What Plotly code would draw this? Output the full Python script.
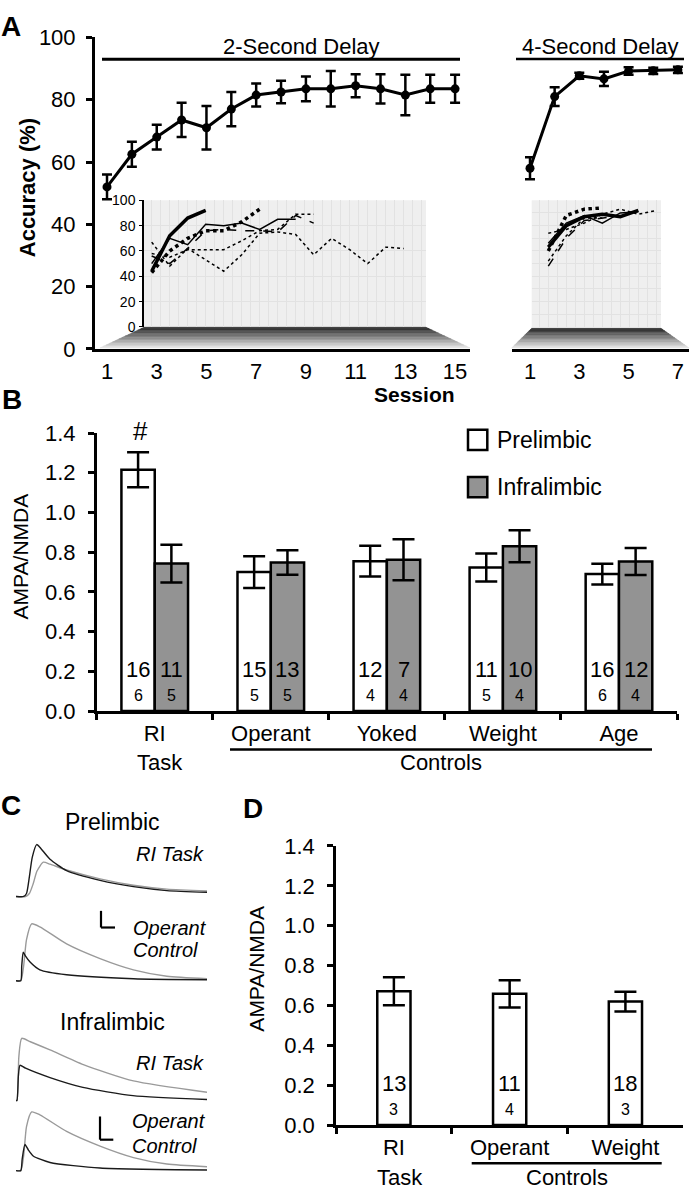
import plotly.graph_objects as go

W, H = 689, 1199
FONT = "Liberation Sans, Arial, Helvetica, sans-serif"

# ---------------- Panel A data ----------------
sessions_2s = list(range(1, 16))
acc_2s = [52, 62.5, 68, 73.5, 71, 77, 81.5, 82.5, 83.5, 83.5, 84.5, 83.5, 81.5, 83.5, 83.5]
err_2s = [4, 4, 4, 5.5, 7, 5.5, 3.7, 3.6, 4, 5.7, 3.7, 4.7, 6.5, 4.5, 4.5]

sessions_4s = list(range(1, 8))
acc_4s = [58, 81, 87.7, 86.7, 89.2, 89.3, 89.6]
err_4s = [3.5, 3, 1, 2.3, 1.2, 1, 1]

# individual animals (inset, 2-s delay)
ind_2s = [
    [44, 72, 86, 92],
    [43, 60, 70, 76, 76, 83, 93],
    [50, 70, 65, 81, 80, 82, 77, 85, 85],
    [56, 50, 62, 76, 77, 76, 76, 75, 88, 82],
    [58, 55, 61, 61, 61, 68, 76, 77, 89, 89],
    [67, 48, 62, 53, 44, 57, 74, 75, 73, 57, 70, 61, 50, 63, 62],
]
# individual animals (inset, 4-s delay)
ind_4s = [
    [63, 80, 87, 89, 87, 92],
    [60, 88, 93, 94],
    [66, 82, 88, 82, 90, 91],
    [48, 70, 84, 86, 88],
    [74, 77, 82, 89, 93, 89, 92],
    [52, 72, 86, 86],
]
ind_styles = [(3.5, "solid"), (3.5, "dot"), (1.5, "solid"), (1.5, "dash"), (1.5, "dot"), (1.5, "dot")]

# ---------------- Panel B data ----------------
groups_b = ["RI", "Operant", "Yoked", "Weight", "Age"]
pl_vals = [1.215, 0.70, 0.755, 0.723, 0.69]
pl_err = [0.088, 0.08, 0.077, 0.07, 0.052]
il_vals = [0.743, 0.748, 0.762, 0.83, 0.753]
il_err = [0.095, 0.062, 0.103, 0.08, 0.068]
pl_cells = [16, 15, 12, 11, 16]
pl_rats = [6, 5, 4, 5, 6]
il_cells = [11, 13, 7, 10, 12]
il_rats = [5, 5, 4, 4, 4]

# ---------------- Panel C data (traces, arbitrary units) ----------------
pl_ri_black_t = [0, 8, 11, 14, 17, 21.7, 26, 35.6, 53, 88, 123, 158, 200]
pl_ri_black = [0, 0, 3, 20, 40, 53, 49, 38, 26.5, 16.5, 10, 6, 4.3]
pl_ri_gray_t = [0, 10, 14, 18, 22, 28.6, 35.6, 53, 88, 123, 158, 200]
pl_ri_gray = [0, 0, 3, 13, 26, 35, 33, 27, 18, 11.5, 7.5, 5.6]

pl_op_gray_t = [0, 5, 8, 11, 16.4, 25, 53, 88, 123, 158, 200]
pl_op_gray = [0, 0, 15, 42, 58, 55, 37.5, 22.5, 11, 4.5, 2]
pl_op_black_t = [0, 5, 6, 7.6, 10, 14.7, 25, 53, 123, 200]
pl_op_black = [0, 0, 15, 29, 25, 19, 11, 6, 2, 1]

il_ri_gray_t = [0, 1, 3, 6, 15, 35.6, 70.5, 123, 200]
il_ri_gray = [0, 0, 45, 63.5, 60, 51.7, 36.7, 20, 8.4]
il_ri_black_t = [0, 1, 2.5, 4.2, 10, 35.6, 70, 122.5, 200]
il_ri_black = [0, 0, 25, 36, 33, 23.4, 13.4, 5, 1]

il_op_gray_t = [0, 5, 8, 11, 16.4, 25, 53, 88, 123, 158, 200]
il_op_gray = [0, 0, 15, 45, 60, 57, 40, 25, 13.3, 6.7, 4]
il_op_black_t = [0, 5, 6.5, 9.4, 13, 18, 35.6, 88, 200]
il_op_black = [0, 0, 12, 26.7, 21, 15, 8.3, 2.7, 0.7]

# ---------------- Panel D data ----------------
groups_d = ["RI", "Operant", "Weight"]
d_vals = [0.671, 0.658, 0.619]
d_err = [0.07, 0.068, 0.05]
d_cells = [13, 11, 18]
d_rats = [3, 4, 3]


def px(x):
    return x / W


def py(y):
    return 1 - y / H


fig = go.Figure()

# ---- A main curves
fig.add_trace(go.Scatter(x=sessions_2s, y=acc_2s, mode="lines+markers",
                         line=dict(color="black", width=3), marker=dict(size=9, color="black"),
                         error_y=dict(type="data", array=err_2s, color="black", thickness=2.5, width=5),
                         xaxis="x", yaxis="y", cliponaxis=False, showlegend=False))
fig.add_trace(go.Scatter(x=sessions_4s, y=acc_4s, mode="lines+markers",
                         line=dict(color="black", width=3), marker=dict(size=9, color="black"),
                         error_y=dict(type="data", array=err_4s, color="black", thickness=2.5, width=5),
                         xaxis="x2", yaxis="y2", cliponaxis=False, showlegend=False))
# ---- A insets
for vals, (lw, dash) in zip(ind_2s, ind_styles):
    fig.add_trace(go.Scatter(x=list(range(1, len(vals) + 1)), y=vals, mode="lines",
                             line=dict(color="black", width=lw, dash=dash),
                             xaxis="x3", yaxis="y3", showlegend=False))
for vals, (lw, dash) in zip(ind_4s, ind_styles):
    fig.add_trace(go.Scatter(x=list(range(1, len(vals) + 1)), y=vals, mode="lines",
                             line=dict(color="black", width=lw, dash=dash),
                             xaxis="x4", yaxis="y4", showlegend=False))

# ---- B bars
BW = 0.287
fig.add_trace(go.Bar(x=groups_b, y=pl_vals, width=BW, offset=-BW, name="Prelimbic",
                     marker=dict(color="white", line=dict(color="black", width=2.5)),
                     error_y=dict(type="data", array=pl_err, color="black", thickness=2.5, width=11),
                     xaxis="x5", yaxis="y5", showlegend=False))
fig.add_trace(go.Bar(x=groups_b, y=il_vals, width=BW, offset=0, name="Infralimbic",
                     marker=dict(color="#939393", line=dict(color="black", width=2.5)),
                     error_y=dict(type="data", array=il_err, color="black", thickness=2.5, width=11),
                     xaxis="x5", yaxis="y5", showlegend=False))

# ---- C traces
c_sets = [
    (pl_ri_gray_t, pl_ri_gray, pl_ri_black_t, pl_ri_black, "6"),
    (pl_op_gray_t, pl_op_gray, pl_op_black_t, pl_op_black, "7"),
    (il_ri_gray_t, il_ri_gray, il_ri_black_t, il_ri_black, "8"),
    (il_op_gray_t, il_op_gray, il_op_black_t, il_op_black, "9"),
]
for gt, gv, bt, bv, k in c_sets:
    fig.add_trace(go.Scatter(x=gt, y=gv, mode="lines", line=dict(color="#9a9a9a", width=1.4, shape="spline", smoothing=0.6),
                             xaxis="x" + k, yaxis="y" + k, showlegend=False))
    fig.add_trace(go.Scatter(x=bt, y=bv, mode="lines", line=dict(color="#1a1a1a", width=1.4, shape="spline", smoothing=0.6),
                             xaxis="x" + k, yaxis="y" + k, showlegend=False))

# ---- D bars
fig.add_trace(go.Bar(x=groups_d, y=d_vals, width=BW,
                     marker=dict(color="white", line=dict(color="black", width=2.5)),
                     error_y=dict(type="data", array=d_err, color="black", thickness=2.5, width=11),
                     xaxis="x10", yaxis="y10", showlegend=False))

tf = dict(family=FONT, size=22, color="black")
ax_common = dict(showgrid=False, zeroline=False, linecolor="black", tickcolor="black", tickfont=tf)

layout = dict(
    width=W, height=H, margin=dict(l=0, r=0, t=0, b=0), autosize=False,
    paper_bgcolor="white", plot_bgcolor="rgba(0,0,0,0)", barmode="overlay",
    font=dict(family=FONT, color="black"),
    xaxis=dict(domain=[px(95), px(470)], range=[0.517, 15.6], anchor="y", showline=True, linewidth=3,
               tickvals=[1, 3, 5, 7, 9, 11, 13, 15], ticks="", ticklabelstandoff=1, **ax_common),
    yaxis=dict(domain=[py(344), py(26)], range=[0, 100], anchor="x", showline=True, linewidth=3,
               tickvals=[0, 20, 40, 60, 80, 100], ticks="outside", ticklen=6, tickwidth=2.5,
               ticklabelstandoff=6, **ax_common),
    xaxis2=dict(domain=[px(512), 1], range=[0.27, 7.45], anchor="y2", showline=True, linewidth=3,
                tickvals=[1, 3, 5, 7], ticks="", ticklabelstandoff=1, **ax_common),
    yaxis2=dict(domain=[py(344), py(26)], range=[0, 100], anchor="x2", visible=False),
    xaxis3=dict(domain=[px(144), px(426)], range=[0.572, 16.24], anchor="y3", showline=False,
                showticklabels=False, ticks="", showgrid=True, gridcolor="#e2e2e2", gridwidth=1,
                dtick=0.5, zeroline=False),
    yaxis3=dict(domain=[py(321.7), py(192.3)], range=[0, 100], anchor="x3", showline=True, linewidth=1.5,
                linecolor="black", tickvals=[0, 20, 40, 60, 80, 100], ticks="outside", ticklen=3,
                tickcolor="black", tickfont=dict(family=FONT, size=14, color="black"),
                showgrid=True, gridcolor="#e2e2e2", zeroline=False, ticklabelstandoff=1),
    xaxis4=dict(domain=[px(531.7), px(661)], range=[0.078, 7.26], anchor="y4", showline=False,
                showticklabels=False, ticks="", showgrid=True, gridcolor="#e2e2e2", dtick=0.5, zeroline=False),
    yaxis4=dict(domain=[py(321.7), py(192.3)], range=[0, 100], anchor="x4", showline=False,
                showticklabels=False, ticks="", showgrid=True, gridcolor="#e2e2e2", dtick=10, zeroline=False),
    xaxis5=dict(domain=[px(96.7), px(677)], type="category", categoryorder="array", categoryarray=groups_b,
                range=[-0.5, 4.5], anchor="y5", showline=True, linewidth=2.5, tickson="boundaries",
                ticks="outside", ticklen=6, tickwidth=2.5, ticklabelstandoff=1, **ax_common),
    yaxis5=dict(domain=[py(714), py(430)], range=[0, 1.4], anchor="x5", showline=True, linewidth=2.5,
                tickvals=[0, 0.2, 0.4, 0.6, 0.8, 1.0, 1.2, 1.4], tickformat=".1f", ticks="outside",
                ticklen=6, tickwidth=2.5, ticklabelstandoff=8, **ax_common),
    xaxis10=dict(domain=[px(336), px(683.3)], type="category", categoryorder="array", categoryarray=groups_d,
                 range=[-0.5, 2.5], anchor="y10", showline=True, linewidth=2.5, tickson="boundaries",
                 ticks="outside", ticklen=6, tickwidth=2.5, ticklabelstandoff=1, **ax_common),
    yaxis10=dict(domain=[py(1136.7), py(851.7)], range=[0, 1.4], anchor="x10", showline=True, linewidth=2.5,
                 tickvals=[0, 0.2, 0.4, 0.6, 0.8, 1.0, 1.2, 1.4], tickformat=".1f", ticks="outside",
                 ticklen=6, tickwidth=2.5, ticklabelstandoff=8, **ax_common),
)

# Panel C axes (invisible)
c_base = {"6": 903.3, "7": 989.3, "8": 1111.7, "9": 1183.3}
c_top = {"6": 60, "7": 65, "8": 70, "9": 65}
for k in ["6", "7", "8", "9"]:
    b = c_base[k]
    layout["xaxis" + k] = dict(domain=[px(16), px(207)], range=[0, 200], anchor="y" + k, visible=False)
    layout["yaxis" + k] = dict(domain=[py(b + 5), py(b - c_top[k])], range=[-5, c_top[k]],
                               anchor="x" + k, visible=False)

fig.update_layout(**layout)

shapes = []
# inset backgrounds
for xa, ya in [("x3", "y3"), ("x4", "y4")]:
    shapes.append(dict(type="rect", xref=xa + " domain", yref=ya + " domain", x0=0, x1=1, y0=0, y1=1,
                       fillcolor="#efefef", line=dict(width=0), layer="below"))
# perspective floors (gradient bands)
N = 14
for (xl_top, xr_top, xl_bot, xr_bot, y_top, y_bot) in [(144, 426, 100, 470, 322, 343),
                                                         (531.7, 661, 511.7, 689, 323, 343)]:
    for k in range(N):
        t0, t1 = k / N, (k + 1) / N
        ya, yb = y_top + t0 * (y_bot - y_top), y_top + t1 * (y_bot - y_top)
        xa0, xa1 = xl_top + t0 * (xl_bot - xl_top), xr_top + t0 * (xr_bot - xr_top)
        xb0, xb1 = xl_top + t1 * (xl_bot - xl_top), xr_top + t1 * (xr_bot - xr_top)
        v = int(25 + 205 * ((k + 0.5) / N) ** 0.9)
        col = "rgb(%d,%d,%d)" % (v, v, v)
        path = "M %f %f L %f %f L %f %f L %f %f Z" % (px(xa0), py(ya), px(xa1), py(ya), px(xb1), py(yb), px(xb0), py(yb))
        shapes.append(dict(type="path", xref="paper", yref="paper", path=path, fillcolor=col,
                           line=dict(width=0.5, color=col), layer="below"))


def hline(x0, x1, y, w=3):
    shapes.append(dict(type="line", xref="paper", yref="paper", x0=px(x0), x1=px(x1), y0=py(y), y1=py(y),
                       line=dict(color="black", width=w)))


def vline(x, y0, y1, w=2):
    shapes.append(dict(type="line", xref="paper", yref="paper", x0=px(x), x1=px(x), y0=py(y0), y1=py(y1),
                       line=dict(color="black", width=w)))


hline(102, 460, 48.3, 3)      # 2-second delay
hline(516, 684, 48, 2.5)      # 4-second delay underline
hline(230, 652, 753.3, 2.5)   # B controls
hline(471.7, 661.7, 1175.7, 2.5)  # D controls
# C scale bars
vline(101, 918, 935, 2.2)
hline(101, 115, 935, 2.2)
vline(100, 1128, 1151.7, 2.2)
hline(100, 113.3, 1151.7, 2.2)
# B legend boxes
shapes.append(dict(type="rect", xref="paper", yref="paper", x0=px(468), x1=px(487.3), y0=py(447.3), y1=py(426.7),
                   fillcolor="white", line=dict(color="black", width=2.5)))
shapes.append(dict(type="rect", xref="paper", yref="paper", x0=px(468), x1=px(487.3), y0=py(495.7), y1=py(475),
                   fillcolor="#939393", line=dict(color="black", width=2.5)))

annotations = []


def ann(text, x, y, size=21, bold=False, italic=False, xanchor="center", angle=0):
    t = text
    if bold:
        t = "<b>" + t + "</b>"
    if italic:
        t = "<i>" + t + "</i>"
    annotations.append(dict(text=t, x=px(x), y=py(y), xref="paper", yref="paper", showarrow=False,
                            xanchor=xanchor, yanchor="middle", textangle=angle,
                            font=dict(family=FONT, size=size, color="black")))


ann("A", 11, 15, 28, bold=True)
ann("2-Second Delay", 301, 35, 22)
ann("4-Second Delay", 600, 35, 22)
ann("Accuracy (%)", 27, 180, 22, bold=True, angle=-90)
ann("Session", 414, 391, 21, bold=True)

ann("B", 12, 396, 28, bold=True)
ann("#", 140, 428, 26)
ann("AMPA/NMDA", 20, 556, 21, angle=-90)
ann("Prelimbic", 495, 437, 23, xanchor="left")
ann("Infralimbic", 495, 485, 23, xanchor="left")
ann("Task", 160, 766, 22)
ann("Controls", 441, 766, 22)

ann("C", 11, 810, 28, bold=True)
ann("Prelimbic", 113, 827, 23)
ann("RI Task", 206, 860, 20, italic=True, xanchor="right")
ann("Operant", 131, 935, 20, italic=True, xanchor="left")
ann("Control", 131, 958, 20, italic=True, xanchor="left")
ann("Infralimbic", 113, 1032, 23)
ann("RI Task", 206, 1073, 20, italic=True, xanchor="right")
ann("Operant", 130, 1133, 20, italic=True, xanchor="left")
ann("Control", 130, 1158, 20, italic=True, xanchor="left")

ann("D", 253, 813, 28, bold=True)
ann("AMPA/NMDA", 257, 977, 21, angle=-90)
ann("Task", 400, 1190, 22)
ann("Controls", 567, 1190, 22)

# cell / animal counts inside bars
for g, c, r in zip(groups_b, pl_cells, pl_rats):
    annotations.append(dict(text=str(c), x=g, y=0.21, xref="x5", yref="y5", xshift=-16.7, showarrow=False,
                            font=dict(family=FONT, size=22, color="black")))
    annotations.append(dict(text=str(r), x=g, y=0.078, xref="x5", yref="y5", xshift=-16.7, showarrow=False,
                            font=dict(family=FONT, size=16, color="black")))
for g, c, r in zip(groups_b, il_cells, il_rats):
    annotations.append(dict(text=str(c), x=g, y=0.21, xref="x5", yref="y5", xshift=16.7, showarrow=False,
                            font=dict(family=FONT, size=22, color="black")))
    annotations.append(dict(text=str(r), x=g, y=0.078, xref="x5", yref="y5", xshift=16.7, showarrow=False,
                            font=dict(family=FONT, size=16, color="black")))
for g, c, r in zip(groups_d, d_cells, d_rats):
    annotations.append(dict(text=str(c), x=g, y=0.21, xref="x10", yref="y10", showarrow=False,
                            font=dict(family=FONT, size=22, color="black")))
    annotations.append(dict(text=str(r), x=g, y=0.078, xref="x10", yref="y10", showarrow=False,
                            font=dict(family=FONT, size=16, color="black")))

fig.update_layout(shapes=shapes, annotations=annotations)

fig.write_html("out.html", config={"displayModeBar": False},
               post_script="document.body.style.margin='0';document.body.style.overflow='hidden';")
